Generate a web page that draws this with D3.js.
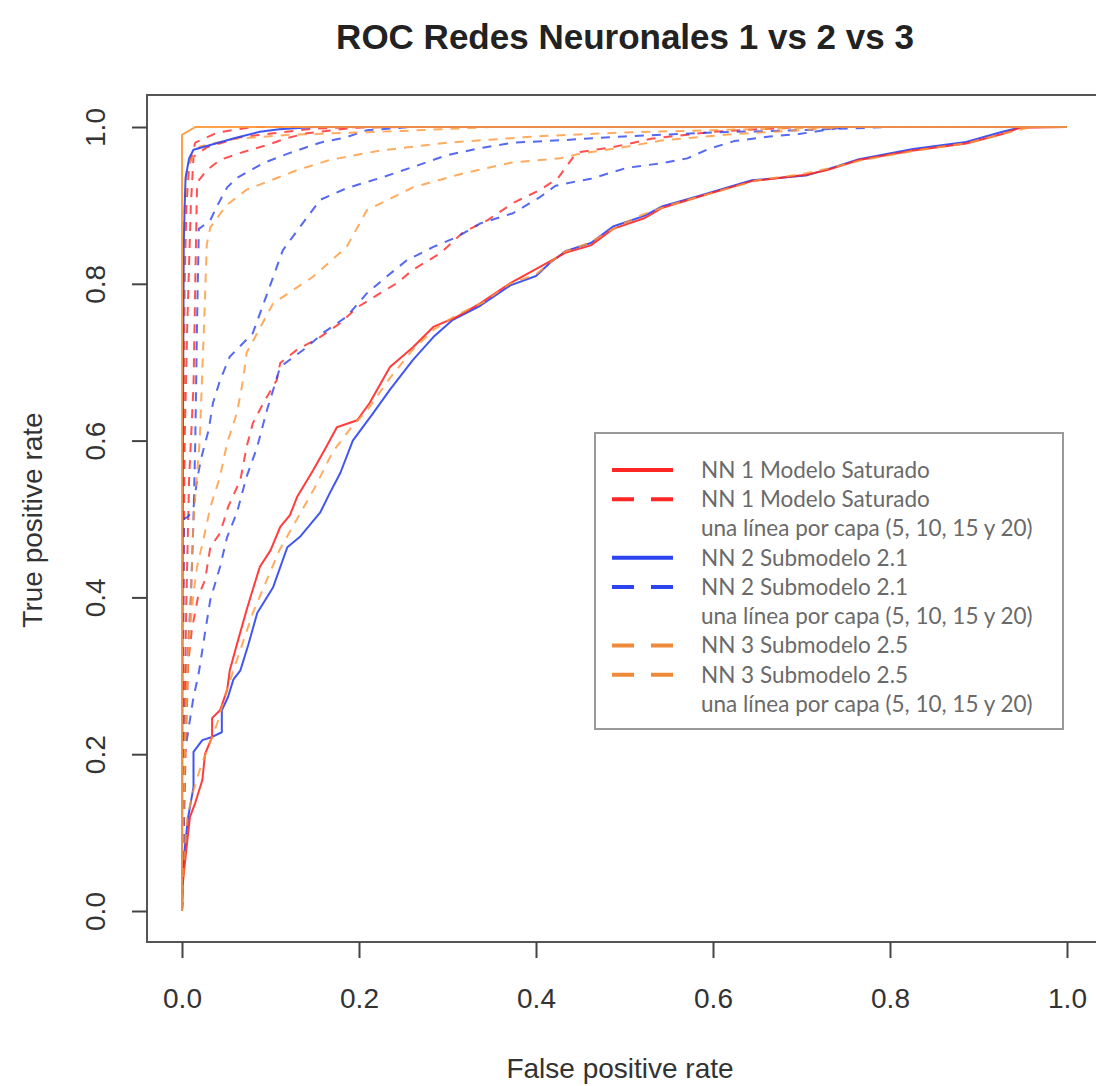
<!DOCTYPE html>
<html>
<head>
<meta charset="utf-8">
<script src="https://cdn.jsdelivr.net/npm/d3@7"></script>
<style>
  html, body { margin: 0; padding: 0; background: #fff; }
  svg { display: block; }
</style>
</head>
<body>
<div id="chart"></div>
<script>
// ROC curves: [false positive rate, true positive rate]
const nn1Full = [[0,0],[0.001,0.036],[0.005,0.08],[0.009,0.12],[0.015,0.138],[0.023,0.167],[0.026,0.2],[0.034,0.222],[0.034,0.246],[0.043,0.256],[0.051,0.282],[0.054,0.307],[0.062,0.34],[0.073,0.384],[0.08,0.41],[0.088,0.439],[0.1,0.46],[0.111,0.49],[0.122,0.505],[0.13,0.528],[0.148,0.562],[0.162,0.59],[0.175,0.617],[0.198,0.626],[0.212,0.648],[0.235,0.694],[0.261,0.719],[0.284,0.745],[0.311,0.758],[0.337,0.775],[0.371,0.801],[0.405,0.822],[0.434,0.84],[0.462,0.849],[0.487,0.87],[0.523,0.884],[0.543,0.897],[0.584,0.911],[0.644,0.931],[0.705,0.939],[0.729,0.945],[0.765,0.958],[0.826,0.97],[0.886,0.979],[0.927,0.991],[0.947,0.999],[1,1]];
const nn1Layer5 = [[0,0],[0.002,0.1],[0.004,0.2],[0.007,0.316],[0.011,0.358],[0.018,0.4],[0.026,0.422],[0.032,0.464],[0.043,0.482],[0.052,0.515],[0.066,0.55],[0.073,0.592],[0.08,0.622],[0.092,0.648],[0.107,0.677],[0.111,0.699],[0.13,0.716],[0.156,0.732],[0.179,0.75],[0.198,0.77],[0.224,0.788],[0.243,0.801],[0.261,0.818],[0.292,0.839],[0.318,0.866],[0.345,0.881],[0.374,0.903],[0.405,0.92],[0.425,0.935],[0.443,0.963],[0.45,0.968],[0.49,0.975],[0.53,0.985],[0.6,0.994],[0.7,1],[1,1]];
const nn1Layer10 = [[0,0],[0.002,0.2],[0.005,0.4],[0.008,0.55],[0.013,0.67],[0.015,0.8],[0.017,0.929],[0.028,0.945],[0.043,0.958],[0.066,0.967],[0.096,0.977],[0.119,0.986],[0.141,0.992],[0.193,0.999],[0.25,1],[1,1]];
const nn1Layer15 = [[0,0],[0.001,0.3],[0.003,0.6],[0.006,0.75],[0.01,0.9],[0.013,0.962],[0.028,0.974],[0.066,0.987],[0.103,0.992],[0.15,0.998],[0.2,1],[1,1]];
const nn1Layer20 = [[0,0],[0.001,0.5],[0.003,0.8],[0.005,0.9],[0.008,0.95],[0.015,0.98],[0.04,0.993],[0.08,1],[1,1]];

const nn2Full = [[0,0],[0.001,0.052],[0.004,0.09],[0.007,0.12],[0.013,0.158],[0.013,0.203],[0.023,0.218],[0.034,0.222],[0.045,0.228],[0.045,0.256],[0.052,0.273],[0.058,0.295],[0.066,0.307],[0.075,0.34],[0.085,0.38],[0.103,0.413],[0.119,0.464],[0.133,0.477],[0.156,0.508],[0.167,0.533],[0.179,0.559],[0.193,0.6],[0.216,0.635],[0.235,0.665],[0.261,0.703],[0.284,0.732],[0.306,0.754],[0.337,0.772],[0.371,0.798],[0.4,0.81],[0.415,0.826],[0.434,0.842],[0.462,0.852],[0.487,0.873],[0.523,0.887],[0.543,0.899],[0.584,0.912],[0.644,0.932],[0.705,0.938],[0.729,0.946],[0.765,0.959],[0.826,0.972],[0.886,0.981],[0.927,0.994],[0.95,1],[1,1]];
const nn2Layer5 = [[0,0],[0.002,0.1],[0.003,0.2],[0.009,0.244],[0.013,0.273],[0.018,0.298],[0.02,0.311],[0.026,0.355],[0.032,0.397],[0.043,0.439],[0.051,0.477],[0.062,0.508],[0.073,0.554],[0.085,0.592],[0.096,0.639],[0.111,0.694],[0.141,0.719],[0.159,0.737],[0.186,0.758],[0.209,0.788],[0.231,0.809],[0.254,0.83],[0.284,0.847],[0.311,0.86],[0.337,0.877],[0.374,0.89],[0.405,0.911],[0.422,0.925],[0.443,0.93],[0.462,0.934],[0.503,0.948],[0.543,0.954],[0.571,0.96],[0.595,0.972],[0.624,0.982],[0.664,0.988],[0.697,0.991],[0.75,1],[1,1]];
const nn2Layer10 = [[0,0],[0.001,0.3],[0.002,0.5],[0.007,0.503],[0.013,0.515],[0.017,0.55],[0.022,0.579],[0.03,0.613],[0.035,0.648],[0.043,0.677],[0.054,0.707],[0.08,0.737],[0.099,0.796],[0.114,0.843],[0.133,0.872],[0.156,0.907],[0.186,0.922],[0.224,0.935],[0.261,0.949],[0.299,0.964],[0.337,0.973],[0.374,0.98],[0.427,0.983],[0.5,0.988],[0.6,0.993],[0.7,0.996],[0.8,1],[1,1]];
const nn2Layer15 = [[0,0],[0.002,0.15],[0.005,0.3],[0.01,0.4],[0.013,0.5],[0.015,0.6],[0.017,0.75],[0.019,0.87],[0.032,0.881],[0.039,0.898],[0.051,0.923],[0.062,0.935],[0.092,0.954],[0.122,0.967],[0.156,0.98],[0.186,0.987],[0.209,0.996],[0.26,1],[1,1]];
const nn2Layer20 = [[0,0],[0.001,0.6],[0.002,0.85],[0.003,0.898],[0.004,0.935],[0.008,0.96],[0.013,0.971],[0.032,0.977],[0.06,0.986],[0.088,0.994],[0.11,0.997],[0.15,1],[1,1]];

const nn3Full = [[0,0],[0.002,0.06],[0.006,0.12],[0.012,0.15],[0.02,0.18],[0.03,0.21],[0.04,0.24],[0.05,0.28],[0.065,0.33],[0.08,0.38],[0.095,0.42],[0.11,0.46],[0.13,0.5],[0.15,0.54],[0.17,0.585],[0.19,0.615],[0.21,0.64],[0.235,0.68],[0.26,0.715],[0.285,0.742],[0.31,0.76],[0.34,0.776],[0.37,0.8],[0.4,0.812],[0.43,0.84],[0.46,0.852],[0.49,0.872],[0.52,0.888],[0.55,0.9],[0.59,0.913],[0.65,0.932],[0.7,0.94],[0.73,0.947],[0.77,0.958],[0.83,0.97],[0.89,0.98],[0.93,0.992],[0.96,1],[1,1]];
const nn3Layer5 = [[0,0],[0.001,0.1],[0.003,0.2],[0.006,0.316],[0.009,0.358],[0.013,0.405],[0.017,0.439],[0.024,0.473],[0.032,0.515],[0.043,0.554],[0.051,0.597],[0.062,0.635],[0.069,0.677],[0.073,0.712],[0.103,0.775],[0.148,0.809],[0.186,0.847],[0.209,0.894],[0.261,0.923],[0.318,0.941],[0.374,0.955],[0.427,0.96],[0.45,0.966],[0.503,0.975],[0.543,0.983],[0.624,0.991],[0.685,0.995],[0.75,1],[1,1]];
const nn3Layer10 = [[0,0],[0.002,0.15],[0.006,0.3],[0.01,0.4],[0.013,0.5],[0.02,0.6],[0.025,0.75],[0.028,0.85],[0.032,0.872],[0.05,0.9],[0.073,0.92],[0.13,0.945],[0.167,0.958],[0.224,0.97],[0.3,0.98],[0.4,0.988],[0.5,0.993],[0.6,0.996],[0.75,1],[1,1]];
const nn3Layer15 = [[0,0],[0.001,0.5],[0.002,0.8],[0.003,0.9],[0.006,0.95],[0.02,0.975],[0.06,0.985],[0.12,0.99],[0.25,0.995],[0.35,1],[1,1]];
const nn3Layer20 = [[0,0],[0,0.99],[0.015,1],[1,1]];

const axisTicks = [0, 0.2, 0.4, 0.6, 0.8, 1.0];

const legendLabels = [
  "NN 1 Modelo Saturado",
  "NN 1 Modelo Saturado",
  "una línea por capa (5, 10, 15 y 20)",
  "NN 2 Submodelo 2.1",
  "NN 2 Submodelo 2.1",
  "una línea por capa (5, 10, 15 y 20)",
  "NN 3 Submodelo 2.5",
  "NN 3 Submodelo 2.5",
  "una línea por capa (5, 10, 15 y 20)"
];

// ---- styling & drawing ----
const RED = "#ff2626", BLUE = "#2c44ee", ORANGE = "#ff9638";
const W = 1096, H = 1086;
const box = { left: 147, top: 95, right: 1102, bottom: 942 };

const svg = d3.select("#chart").append("svg").attr("width", W).attr("height", H)
  .style("font-family", "'Liberation Sans', Arial, Helvetica, sans-serif");

const x = d3.scaleLinear().domain([0, 1]).range([182, 1067]);
const y = d3.scaleLinear().domain([0, 1]).range([911, 127]);

const line = d3.line().x(d => x(d[0])).y(d => y(d[1]));

// draw order: layered curves first, whole models after
const series = [
  { data: nn1Layer5,  color: RED,    dashed: true },
  { data: nn1Layer10, color: RED,    dashed: true },
  { data: nn1Layer15, color: RED,    dashed: true },
  { data: nn1Layer20, color: RED,    dashed: true },
  { data: nn2Layer5,  color: BLUE,   dashed: true },
  { data: nn2Layer10, color: BLUE,   dashed: true },
  { data: nn2Layer15, color: BLUE,   dashed: true },
  { data: nn3Layer5,  color: ORANGE, dashed: true },
  { data: nn3Layer10, color: ORANGE, dashed: true },
  { data: nn3Layer15, color: ORANGE, dashed: true },
  { data: nn2Full,    color: BLUE,   dashed: false },
  { data: nn1Full,    color: RED,    dashed: false },
  { data: nn3Full,    color: ORANGE, dashed: true },
  { data: nn2Layer20, color: BLUE,   dashed: false },
  { data: nn3Layer20, color: ORANGE, dashed: false }
];

svg.append("g").selectAll("path").data(series).join("path")
  .attr("d", d => line(d.data))
  .attr("fill", "none")
  .attr("stroke", d => d.color)
  .attr("stroke-width", 2)
  .attr("stroke-opacity", d => d.dashed ? 0.8 : 0.9)
  .attr("stroke-dasharray", d => d.dashed ? "9,8" : null)
  .attr("stroke-linejoin", "round");

// plot frame
svg.append("rect")
  .attr("x", box.left).attr("y", box.top)
  .attr("width", box.right - box.left).attr("height", box.bottom - box.top)
  .attr("fill", "none").attr("stroke", "#555").attr("stroke-width", 2);

const fmt = d3.format(".1f");

// x axis
const gx = svg.append("g").attr("transform", `translate(0,${box.bottom})`)
  .call(d3.axisBottom(x).tickValues(axisTicks).tickFormat(fmt).tickSize(16).tickPadding(30));
gx.select(".domain").remove();
gx.selectAll(".tick line").attr("stroke", "#444").attr("stroke-width", 2);
gx.selectAll(".tick text").attr("font-size", 28).attr("fill", "#333")
  .style("font-family", "'Liberation Sans', Arial, sans-serif");

// y axis with rotated labels
const gy = svg.append("g").attr("transform", `translate(${box.left},0)`)
  .call(d3.axisLeft(y).tickValues(axisTicks).tickFormat(fmt).tickSize(15));
gy.select(".domain").remove();
gy.selectAll(".tick line").attr("stroke", "#444").attr("stroke-width", 2);
gy.selectAll(".tick text")
  .attr("transform", "rotate(-90)")
  .attr("x", 0).attr("y", -42).attr("dy", 0)
  .attr("text-anchor", "middle")
  .attr("font-size", 28).attr("fill", "#333")
  .style("font-family", "'Liberation Sans', Arial, sans-serif");

// title and axis titles
svg.append("text").attr("x", 625).attr("y", 49).attr("text-anchor", "middle")
  .attr("font-size", 35).attr("font-weight", "bold").attr("fill", "#222")
  .text("ROC Redes Neuronales 1 vs 2 vs 3");
svg.append("text").attr("x", 620).attr("y", 1078).attr("text-anchor", "middle")
  .attr("font-size", 28).attr("fill", "#333").text("False positive rate");
svg.append("text").attr("transform", "translate(42,520) rotate(-90)").attr("text-anchor", "middle")
  .attr("font-size", 28).attr("fill", "#333").text("True positive rate");

// legend
const legendKeys = [
  { color: RED, dashed: false }, { color: RED, dashed: true }, null,
  { color: BLUE, dashed: false }, { color: BLUE, dashed: true }, null,
  { color: "#ee8a3a", dashed: true }, { color: "#ee8a3a", dashed: true }, null
];
const lg = svg.append("g");
lg.append("rect").attr("x", 595).attr("y", 433).attr("width", 468).attr("height", 296)
  .attr("fill", "#fff").attr("stroke", "#9a9a9a").attr("stroke-width", 2);
const rowY = d3.scaleLinear().domain([0, 8]).range([470, 704]);
const rows = lg.selectAll("g.row").data(legendLabels).join("g").attr("class", "row")
  .attr("transform", (d, i) => `translate(0,${rowY(i)})`);
rows.each(function(d, i) {
  const k = legendKeys[i];
  if (k) {
    d3.select(this).append("line").attr("x1", 612).attr("x2", 673).attr("y1", 0).attr("y2", 0)
      .attr("stroke", k.color).attr("stroke-width", 4)
      .attr("stroke-dasharray", k.dashed ? "22,17" : null);
  }
});
rows.append("text").attr("x", 701).attr("y", 0).attr("dy", "0.35em")
  .attr("font-size", 22.5).attr("fill", "#6a6a6a")
  .style("font-family", "Lato, 'Open Sans', sans-serif")
  .text(d => d);
</script>
</body>
</html>
